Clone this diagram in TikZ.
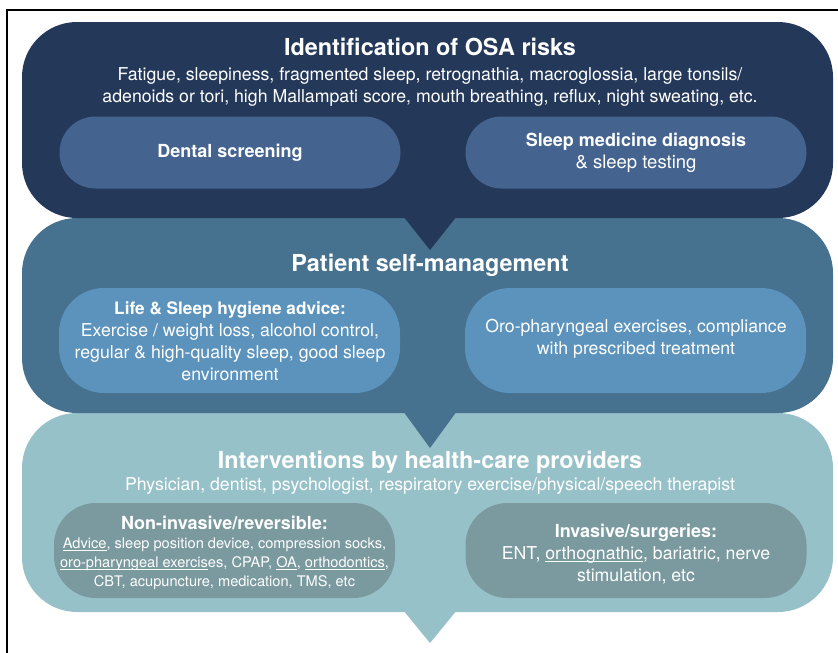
\documentclass[tikz,border=0pt]{standalone}
\usepackage{fontspec}
\setmainfont{TeX Gyre Heros}
\definecolor{navy}{HTML}{24385A}
\definecolor{navypill}{HTML}{44648F}
\definecolor{steel}{HTML}{46718F}
\definecolor{steelpill}{HTML}{5C93BD}
\definecolor{teal}{HTML}{97C1C9}
\definecolor{tealpill}{HTML}{7A9A9F}
% thin underline sitting just under the baseline
\newsavebox{\ulinedbox}
\newcommand{\ulined}[1]{\leavevmode\sbox{\ulinedbox}{#1}\rlap{\raisebox{-2pt}{\rule{\wd\ulinedbox}{0.6pt}}}\usebox{\ulinedbox}}
\tikzset{
  panel/.style={rectangle, rounded corners=55pt, inner sep=0pt, minimum width=811pt},
  pill/.style={rectangle, inner sep=0pt, minimum width=341pt},
  label/.style={text=white, align=center, inner sep=0pt},
  headline/.style={label, font=\fontsize{23.4}{27}\selectfont\bfseries},
  body/.style={label, font=\fontsize{17.7}{22}\selectfont},
  smallbody/.style={label, font=\fontsize{14.6}{19}\selectfont},
}
\newcommand{\pillhead}{\fontsize{18}{22}\selectfont\bfseries}
\begin{document}
\begin{tikzpicture}[x=1pt,y=-1pt]
\useasboundingbox (0,0) rectangle (838,653);
% frame
\draw[line width=1.2pt] (7,653) -- (7,10) -- (838,10);

% panels, bottom to top so that each pointer overlaps the panel below
\node[panel, fill=teal, minimum height=199pt] (care) at (427.5,512.5) {};
\coordinate (caretip) at (430,643);
\fill[teal] (caretip) -- ++(-27,-33) -- ++(54,0) -- cycle;

\node[panel, fill=steel, minimum height=195pt] (self) at (427.5,315.5) {};
\coordinate (selftip) at (430,448);
\fill[steel] (selftip) -- ++(-27,-37) -- ++(54,0) -- cycle;

\node[panel, fill=navy, minimum height=196pt] (risk) at (427.5,120) {};
\coordinate (risktip) at (430,250);
\fill[navy] (risktip) -- ++(-27,-34) -- ++(54,0) -- cycle;

% identification panel
\node[headline] (risktitle) at (430,47) {Identification of OSA risks};
\node[body] (risktext) at (430,87) {Fatigue, sleepiness, fragmented sleep, retrognathia, macroglossia, large tonsils/\\
adenoids or tori, high Mallampati score, mouth breathing, reflux, night sweating, etc.};
\node[pill, fill=navypill, minimum height=72pt, rounded corners=36pt] (dental) at (230,152.5) {};
\node[pill, fill=navypill, minimum height=72pt, rounded corners=36pt] (sleepmed) at (636,152.5) {};
\node[label, font=\pillhead] (dentaltext) at (dental) {Dental screening};
\node[body, font=\fontsize{18.5}{22}\selectfont] (sleepmedtext) at (sleepmed) {{\pillhead Sleep medicine diagnosis}\\ \& sleep testing};

% self-management panel
\node[headline] (selftitle) at (430,265) {Patient self-management};
\node[pill, fill=steelpill, minimum height=105pt, rounded corners=45pt] (hygiene) at (229.5,340.5) {};
\node[pill, fill=steelpill, minimum height=105pt, rounded corners=45pt] (exercise) at (635.5,340.5) {};
\node[body] (hygienetext) at (230,341) {{\fontsize{17.2}{22}\selectfont\bfseries Life \& Sleep hygiene advice:}\\
Exercise / weight loss, alcohol control,\\
regular \& high-quality sleep, good sleep\\
environment};
\node[body] (exercisetext) at (636,339) {Oro-pharyngeal exercises, compliance\\
with prescribed treatment};

% interventions panel
\node[headline] (caretitle) at (430,462) {Interventions by health-care providers};
\node[body] (caretext) at (430,486) {Physician, dentist, psychologist, respiratory exercise/physical/speech therapist};
\node[pill, fill=tealpill, minimum height=95pt, rounded corners=42pt] (noninv) at (224.5,550.5) {};
\node[pill, fill=tealpill, minimum height=95pt, rounded corners=42pt] (inv) at (636,550.5) {};
\node[smallbody] (noninvtext) at (224.5,553) {{\fontsize{18}{20}\selectfont\bfseries Non-invasive/reversible:}\\
\ulined{Advice}, sleep position device, compression socks,\\
\ulined{oro-pharyngeal exercis}es, CPAP, \ulined{OA}, \ulined{orthodontics},\\
CBT, acupuncture, medication, TMS, etc};
\node[body] (invtext) at (636,554) {{\pillhead Invasive/surgeries:}\\
ENT, \ulined{orthognathic}, bariatric, nerve\\
stimulation, etc};
\end{tikzpicture}
\end{document}
